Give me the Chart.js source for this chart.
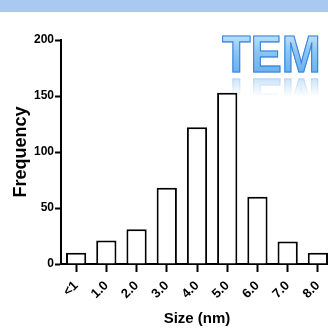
<!DOCTYPE html>
<html>
<head>
<meta charset="utf-8">
<script src="https://cdn.jsdelivr.net/npm/chart.js@4"></script>
<style>
  html, body { margin: 0; padding: 0; background: #fff; overflow: hidden; width: 328px; height: 330px; }
  #band { position: absolute; left: 0; top: 0; width: 328px; height: 12px; background: #a9c9f1; }
  #wrap { position: absolute; left: 0; top: 0; width: 340px; height: 330px; }
  #tem {
    position: absolute; left: 222px; top: 28px;
    font: bold 52px "Liberation Sans", Arial, sans-serif; line-height: 52px;
    transform: scaleX(0.9); transform-origin: left top;
    background: linear-gradient(#d3ebfd, #8cc6f4 45%, #5ea9ee);
    -webkit-background-clip: text; background-clip: text; color: transparent;
    -webkit-text-stroke: 1.2px #3d84d6;
    -webkit-box-reflect: below -9px linear-gradient(transparent 50%, rgba(255,255,255,0.5));
  }
</style>
</head>
<body>
<div id="band"></div>
<div id="wrap"><canvas id="c" width="340" height="330"></canvas></div>
<div id="tem">TEM</div>
<script>
// size bins and counts
const sizeLabels = ["<1", "1.0", "2.0", "3.0", "4.0", "5.0", "6.0", "7.0", "8.0"]
const frequency = [10, 21, 31, 68, 122, 153, 60, 20, 10]
const yTicks = [0, 50, 100, 150, 200]

const fontFamily = "'Liberation Sans', Arial, sans-serif"

new Chart(document.getElementById("c"), {
  type: "bar",
  data: {
    labels: sizeLabels,
    datasets: [
      {
        data: frequency,
        backgroundColor: "#ffffff",
        borderColor: "#000000",
        borderWidth: 2,
        barPercentage: 0.67,
        categoryPercentage: 1.0,
      },
    ],
  },
  options: {
    responsive: false,
    animation: false,
    devicePixelRatio: 1,
    layout: { padding: { top: 40, right: 7, left: 0, bottom: 0 } },
    plugins: { legend: { display: false }, tooltip: { enabled: false } },
    scales: {
      x: {
        offset: true,
        grid: { offset: false, drawOnChartArea: false, drawTicks: true, tickLength: 8, tickWidth: 2, tickColor: "#000" },
        border: { color: "#000", width: 2 },
        ticks: { color: "#000", font: { family: fontFamily, size: 13, weight: "bold" }, minRotation: 45, maxRotation: 45, autoSkip: false, padding: 6 },
        title: {
          display: true,
          text: "Size (nm)",
          color: "#000",
          font: { family: fontFamily, size: 15, weight: "bold" },
          padding: { top: 0, bottom: 2 },
        },
        afterFit: (scale) => { scale.height = 66 },
      },
      y: {
        min: 0,
        max: 200,
        afterBuildTicks: (scale) => { scale.ticks = yTicks.map((v) => ({ value: v })) },
        grid: { drawOnChartArea: false, drawTicks: true, tickLength: 6, tickWidth: 2, tickColor: "#000" },
        border: { color: "#000", width: 2 },
        ticks: { color: "#000", font: { family: fontFamily, size: 12, weight: "bold" }, padding: 1 },
        title: {
          display: true,
          text: "Frequency",
          color: "#000",
          font: { family: fontFamily, size: 18, weight: "bold" },
          padding: { top: 10, bottom: 0 },
        },
        afterFit: (scale) => { scale.width = 61 },
      },
    },
  },
})
</script>
</body>
</html>
